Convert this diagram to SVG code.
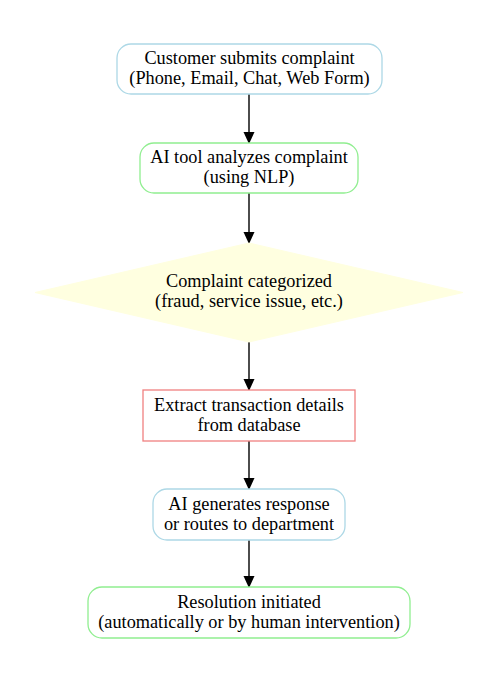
<svg xmlns="http://www.w3.org/2000/svg" width="485" height="673" viewBox="0 0 485 673">
<defs>
<style>
text{font-family:"Liberation Serif","Times New Roman",serif;font-size:18.3px;fill:#000;text-anchor:middle}
.blue{fill:#fff;stroke:#add8e6;stroke-width:1.3}
.green{fill:#fff;stroke:#90ee90;stroke-width:1.3}
.red{fill:#fff;stroke:#f08080;stroke-width:1.3}
.edge{stroke:#000;stroke-width:1.4;fill:none}
</style>
<marker id="arr" markerUnits="userSpaceOnUse" markerWidth="12" markerHeight="14" refX="11" refY="5.5" orient="auto" viewBox="0 0 12 11">
<path d="M0,0 L12,5.5 L0,11 Z" fill="#000"/>
</marker>
</defs>
<rect width="485" height="673" fill="#fff"/>
<g id="connectors">
<line class="edge" x1="249" y1="94" x2="249" y2="143" marker-end="url(#arr)"/>
<line class="edge" x1="249" y1="193" x2="249" y2="243" marker-end="url(#arr)"/>
<line class="edge" x1="249" y1="342" x2="249" y2="390" marker-end="url(#arr)"/>
<line class="edge" x1="249" y1="441" x2="249" y2="489" marker-end="url(#arr)"/>
<line class="edge" x1="249" y1="540" x2="249" y2="587" marker-end="url(#arr)"/>
</g>
<g id="n1">
<rect class="blue" x="117" y="44" width="265" height="50" rx="14"/>
<text x="249.5" y="64">Customer submits complaint</text>
<text x="249.5" y="84">(Phone, Email, Chat, Web Form)</text>
</g>
<g id="n2">
<rect class="green" x="140" y="143" width="218" height="50" rx="14"/>
<text x="249" y="163">AI tool analyzes complaint</text>
<text x="249" y="183">(using NLP)</text>
</g>
<g id="n3">
<polygon points="249,243 463,292.5 249,342 35,292.5" fill="#ffffe0" stroke="#ffffe0"/>
<text x="249" y="287">Complaint categorized</text>
<text x="249" y="307">(fraud, service issue, etc.)</text>
</g>
<g id="n4">
<rect class="red" x="143" y="390" width="212" height="51"/>
<text x="249" y="411">Extract transaction details</text>
<text x="249" y="431">from database</text>
</g>
<g id="n5">
<rect class="blue" x="153" y="489" width="192" height="51" rx="14"/>
<text x="249" y="510">AI generates response</text>
<text x="249" y="530">or routes to department</text>
</g>
<g id="n6">
<rect class="green" x="88" y="587" width="322" height="51" rx="14"/>
<text x="249" y="608">Resolution initiated</text>
<text x="249" y="628">(automatically or by human intervention)</text>
</g>
</svg>
